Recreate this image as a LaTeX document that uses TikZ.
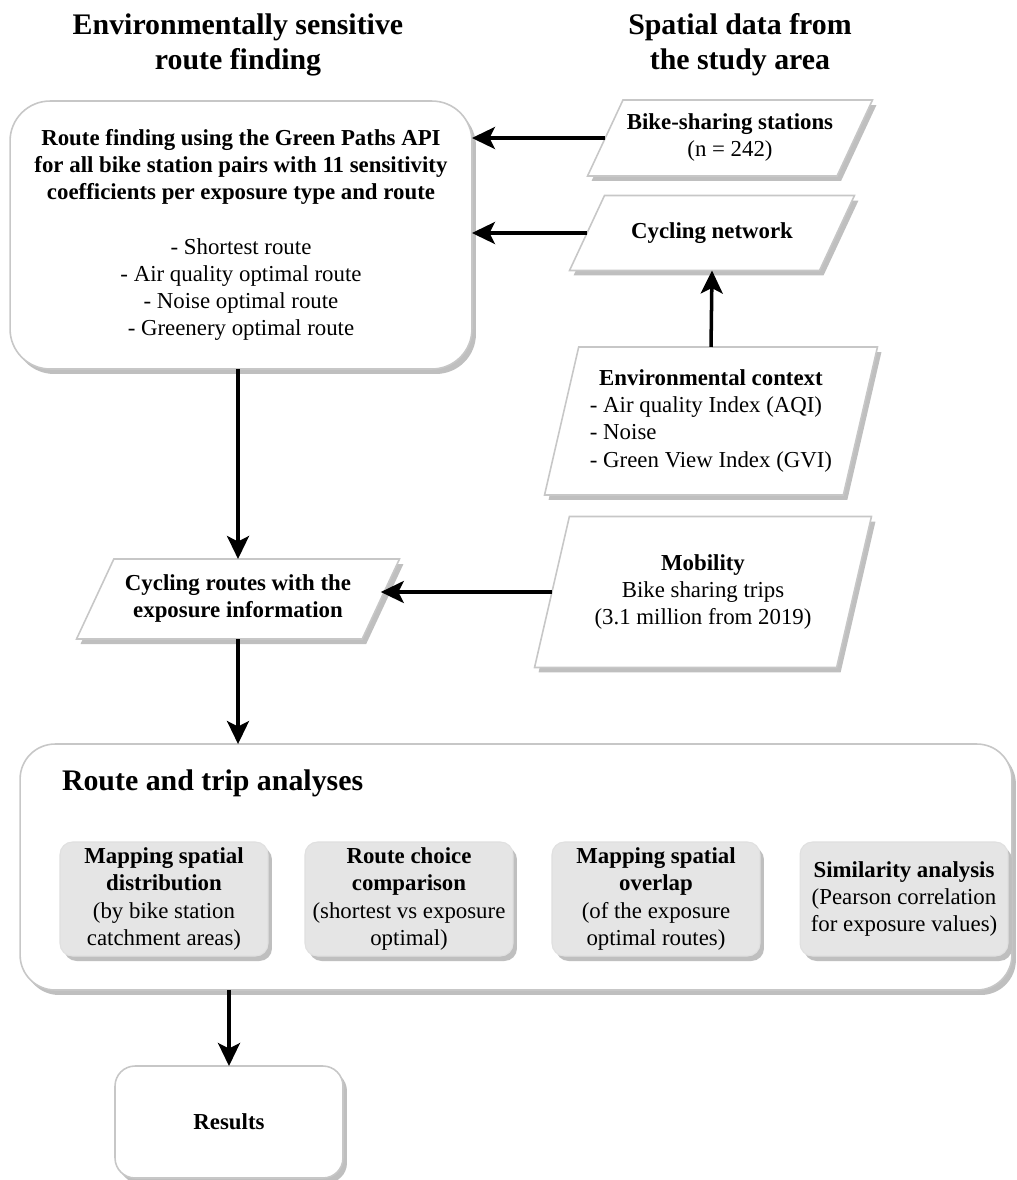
\documentclass[tikz,border=0pt]{standalone}
\usepackage{fontspec}
\setmainfont{Liberation Serif}
\usetikzlibrary{shapes.geometric,shadows,arrows.meta}
% fixed-height text block for the slanted boxes
\newcommand{\slab}[2]{\vbox to #1{\vfil\hbox{\begin{tabular}{@{}c@{}}#2\end{tabular}}\vfil}}

\begin{document}
\begin{tikzpicture}[x=0.02cm,y=-0.02cm,
  every node/.style={font=\fontsize{13}{15.4}\selectfont, align=center, inner sep=0pt, outer sep=0pt},
  shade/.style={drop shadow={shadow xshift=0.08cm, shadow yshift=-0.1cm, fill=black!25, opacity=1}},
  box/.style={draw=black!22, line width=0.9pt, fill=white, rounded corners=#1, shade},
  box/.default=0.8cm,
  para/.style={trapezium, trapezium left angle=65, trapezium right angle=115, trapezium stretches body,
    draw=black!22, line width=0.9pt, fill=white, shade},
  tallpara/.style={para, trapezium left angle=77, trapezium right angle=103},
  subbox/.style={draw=black!12, line width=0.6pt, fill=black!10, rounded corners=0.25cm,
    minimum width=4.16cm, minimum height=2.28cm, shade},
  title/.style={font=\fontsize{17}{20}\selectfont\bfseries},
  arr/.style={-{Stealth[length=4.6mm, width=4.4mm, inset=1.1mm]}, line width=2pt}]
\useasboundingbox (0,0) rectangle (1017,1180);

% column titles
\node[title] (ttlleft) at (238,45) {Environmentally sensitive\\route finding};
\node[title] (ttlright) at (740,45) {Spatial data from\\the study area};

% route finding
\node[box, minimum width=9.24cm, minimum height=5.36cm] (route) at (241,235)
  {\textbf{Route finding using the Green Paths API}\\
   \textbf{for all bike station pairs with 11 sensitivity}\\
   \textbf{coefficients per exposure type and route}\\[15.4pt]
   - Shortest route\\- Air quality optimal route\\- Noise optimal route\\- Greenery optimal route};

% spatial data
\node[para, minimum width=5.7cm] (bike) at (730,138)
  {\slab{1.52cm}{\textbf{Bike-sharing stations}\\(n = 242)}};
\node[para, minimum width=5.7cm] (cycnet) at (712,233)
  {\slab{1.5cm}{\textbf{Cycling network}}};
\node[tallpara, minimum width=6.66cm] (env) at (711,421)
  {\slab{2.96cm}{\textbf{Environmental context}\\
   \begin{tabular}{@{}l@{}}- Air quality Index (AQI)\\- Noise\\- Green View Index (GVI)\end{tabular}}};
\node[tallpara, minimum width=6.74cm] (mob) at (703,592)
  {\slab{3.02cm}{\textbf{Mobility}\\Bike sharing trips\\(3.1 million from 2019)}};

\node[para, minimum width=6.46cm] (cycroutes) at (238,599)
  {\slab{1.6cm}{\textbf{Cycling routes with the}\\\textbf{exposure information}}};

% analyses
\node[box=0.7cm, minimum width=19.84cm, minimum height=4.92cm] (analyses) at (516,867) {};
\node[title, anchor=west] (antitle) at (62,783) {Route and trip analyses};
\node[subbox] (sub1) at (164,899) {\textbf{Mapping spatial}\\\textbf{distribution}\\(by bike station\\catchment areas)};
\node[subbox] (sub2) at (409,899) {\textbf{Route choice}\\\textbf{comparison}\\(shortest vs exposure\\optimal)};
\node[subbox] (sub3) at (656,899) {\textbf{Mapping spatial}\\\textbf{overlap}\\(of the exposure\\optimal routes)};
\node[subbox] (sub4) at (904,899) {\textbf{Similarity analysis}\\(Pearson correlation\\for exposure values)};

\node[box=0.4cm, minimum width=4.56cm, minimum height=2.24cm] (results) at (229,1122) {\textbf{Results}};

% arrows
\draw[arr] (bike.west) -- (bike.west -| route.east);
\draw[arr] (cycnet.west) -- (cycnet.west -| route.east);
\draw[arr] (env.north) -- (cycnet.south);
\draw[arr] (route.south -| cycroutes.north) -- (cycroutes.north);
\draw[arr] (mob.west) -- (mob.west -| cycroutes.east);
\draw[arr] (cycroutes.south) -- (cycroutes.south |- analyses.north);
\draw[arr] (results.north |- analyses.south) -- (results.north);
\end{tikzpicture}
\end{document}
